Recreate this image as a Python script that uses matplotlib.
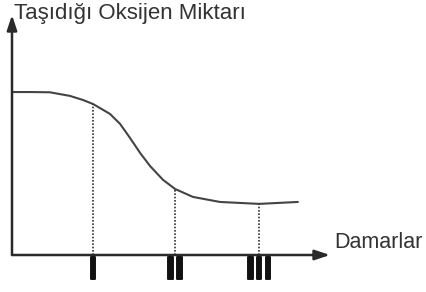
import matplotlib
matplotlib.use("Agg")
import matplotlib.pyplot as plt
import matplotlib.patheffects as pe

# Data (arbitrary units)
curve_x = [0, 5.7, 11.9, 18.2, 22.3, 25.5, 30.8, 34.0, 37.1, 40.3, 43.4, 47.5,
           51.3, 56.9, 65.4, 77.7, 89.9]
curve_y = [67.9, 67.9, 67.8, 66.3, 64.6, 62.9, 58.8, 54.6, 48.8, 42.5, 37.1, 31.3,
           27.5, 24.2, 22.1, 21.3, 22.1]
categories = ["I", "II", "III"]
cat_x = [25.5, 51.3, 77.7]
cat_y = [62.9, 27.5, 21.3]
y_label = "Taşıdığı Oksijen Miktarı"
x_label = "Damarlar"

W, H = 427, 292
fig = plt.figure(figsize=(W / 100, H / 100), dpi=100)
# axes: data x 0..100 -> px 12..330, y 0..100 -> px 255..15
ax = fig.add_axes([12 / W, (H - 255) / H, 318 / W, 240 / H])
ax.set_xlim(0, 100)
ax.set_ylim(0, 100)
ax.axis("off")

axcol = "#2a2a2a"
for end in [(0, 100), (100, 0)]:
    ax.annotate("", xy=end, xytext=(0, 0), xycoords="data",
                arrowprops=dict(arrowstyle="-|>,head_length=0.9,head_width=0.3", color=axcol,
                                lw=1.8, shrinkA=0, shrinkB=0), annotation_clip=False)

ax.plot(curve_x, curve_y, color="#444444", lw=1.5, solid_joinstyle="round",
        solid_capstyle="round", clip_on=False)

for x, y, lab in zip(cat_x, cat_y, categories):
    ax.plot([x, x], [0, y], color="#333333", lw=1.2, ls=(0, (1, 1)))
    ax.text(x, -6.6, lab, ha="center", va="center", fontsize=23, fontweight="bold",
            family=["Liberation Sans", "DejaVu Sans"], color="#111111",
            path_effects=[pe.withStroke(linewidth=1.4, foreground="#111111")])

fig.text(14 / W, 1 - 13 / H, y_label, ha="left", va="center", fontsize=16,
         family="Liberation Sans", color="#333333")
fig.text(334 / W, 1 - 243 / H, x_label, ha="left", va="center", fontsize=15.5,
         family="Liberation Sans", color="#333333")

fig.savefig("out.png", dpi=100)
